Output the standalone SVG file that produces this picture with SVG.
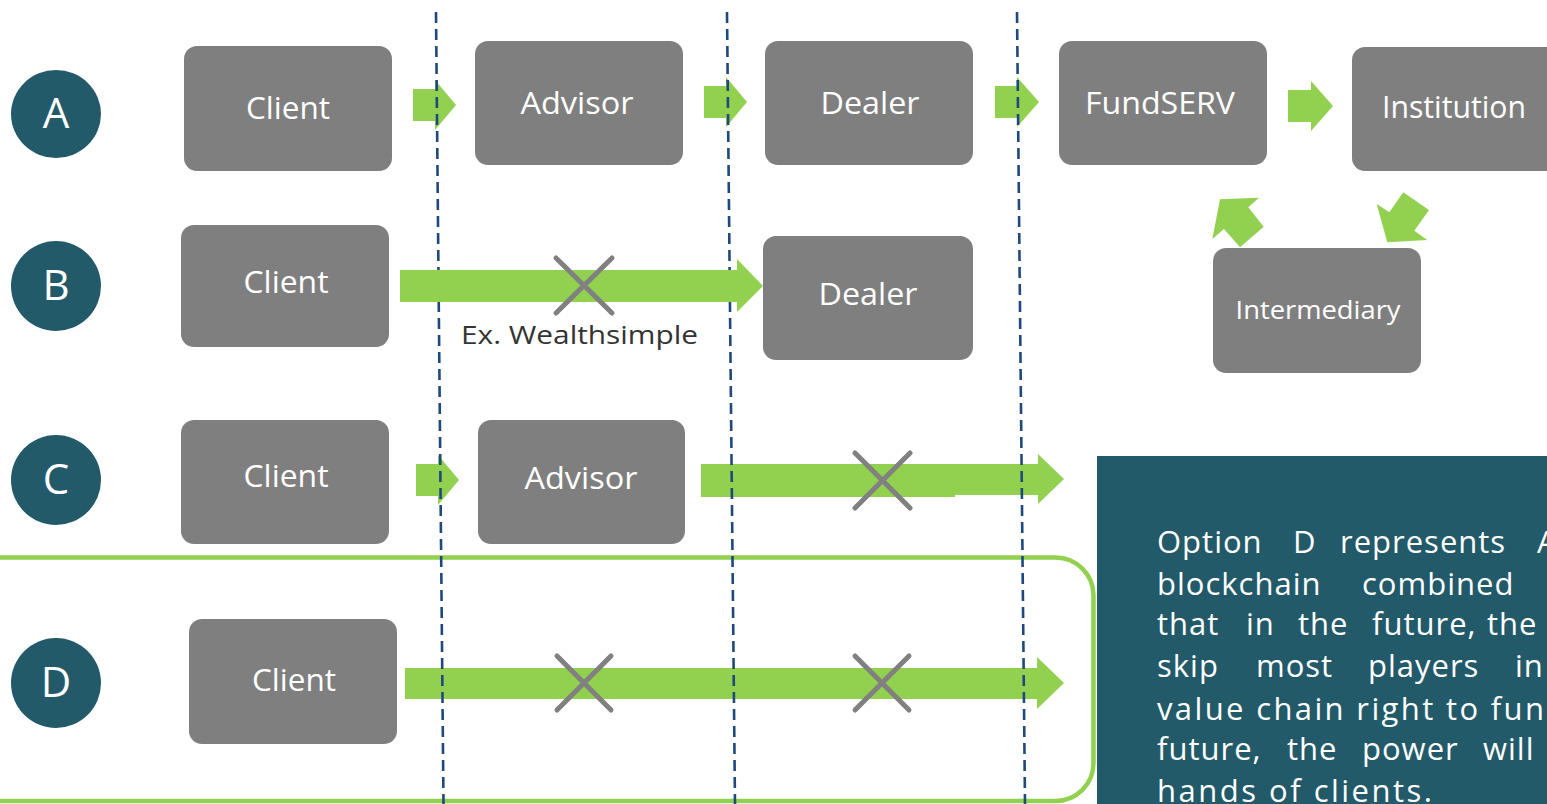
<svg xmlns="http://www.w3.org/2000/svg" width="1547" height="804" viewBox="0 0 1547 804">
<style>
.box{fill:#7f7f7f}
.lbl{font-family:"Open Sans","Noto Sans",sans-serif;font-size:31px;fill:#ffffff;text-anchor:middle}
.circ{fill:#225a69}
.clbl{font-family:"Open Sans","Noto Sans",sans-serif;font-size:42px;fill:#ffffff;text-anchor:middle}
.arr{fill:#92d050}
.dash{stroke:#1f497d;stroke-width:2.6;stroke-dasharray:11 6;fill:none}
.x{stroke:#808080;stroke-width:5;stroke-linecap:round;fill:none}
.para{font-family:"Open Sans","Noto Sans",sans-serif;font-size:31px;fill:#ffffff;letter-spacing:1px}
</style>
<rect width="1547" height="804" fill="#ffffff"/>

<!-- Option D outline -->
<rect id="optionD-frame" x="-35" y="557.5" width="1128.5" height="243.5" rx="38" ry="38" fill="none" stroke="#92d050" stroke-width="4.5"/>

<!-- row circles -->
<g id="circle-A"><ellipse class="circ" cx="56" cy="114" rx="45" ry="44"/><text class="clbl" x="56" y="128">A</text></g>
<g id="circle-B"><ellipse class="circ" cx="56" cy="286" rx="45" ry="45"/><text class="clbl" x="56" y="300">B</text></g>
<g id="circle-C"><ellipse class="circ" cx="56" cy="480" rx="45" ry="45"/><text class="clbl" x="56" y="494">C</text></g>
<g id="circle-D"><ellipse class="circ" cx="56" cy="683" rx="45" ry="45"/><text class="clbl" x="56" y="697">D</text></g>

<!-- nodes -->
<g id="A-client"><rect class="box" x="184" y="46" width="208" height="125" rx="13"/><text class="lbl" x="288" y="119" textLength="84" lengthAdjust="spacingAndGlyphs">Client</text></g>
<g id="A-advisor"><rect class="box" x="475" y="41" width="208" height="124" rx="13"/><text class="lbl" x="577" y="114" textLength="113" lengthAdjust="spacingAndGlyphs">Advisor</text></g>
<g id="A-dealer"><rect class="box" x="765" y="41" width="208" height="124" rx="13"/><text class="lbl" x="870" y="114" textLength="99" lengthAdjust="spacingAndGlyphs">Dealer</text></g>
<g id="A-fundserv"><rect class="box" x="1059" y="41" width="208" height="124" rx="13"/><text class="lbl" x="1160" y="114" textLength="150" lengthAdjust="spacingAndGlyphs">FundSERV</text></g>
<g id="A-institution"><rect class="box" x="1352" y="47" width="215" height="124" rx="13"/><text class="lbl" x="1454" y="118" textLength="144" lengthAdjust="spacingAndGlyphs">Institution</text></g>
<g id="intermediary"><rect class="box" x="1213" y="248" width="208" height="125" rx="13"/><text class="lbl" x="1318" y="319" style="font-size:25px" textLength="165" lengthAdjust="spacingAndGlyphs">Intermediary</text></g>

<g id="B-client"><rect class="box" x="181" y="225" width="208" height="122" rx="13"/><text class="lbl" x="286" y="293" textLength="85" lengthAdjust="spacingAndGlyphs">Client</text></g>
<g id="B-dealer"><rect class="box" x="763" y="236" width="210" height="124" rx="13"/><text class="lbl" x="868" y="305" textLength="99" lengthAdjust="spacingAndGlyphs">Dealer</text></g>

<g id="C-client"><rect class="box" x="181" y="420" width="208" height="124" rx="13"/><text class="lbl" x="286" y="487" textLength="85" lengthAdjust="spacingAndGlyphs">Client</text></g>
<g id="C-advisor"><rect class="box" x="478" y="420" width="207" height="124" rx="13"/><text class="lbl" x="581" y="489" textLength="113" lengthAdjust="spacingAndGlyphs">Advisor</text></g>

<g id="D-client"><rect class="box" x="189" y="619" width="208" height="125" rx="13"/><text class="lbl" x="294" y="691" textLength="84" lengthAdjust="spacingAndGlyphs">Client</text></g>

<!-- connectors -->
<g id="connectors">
  <g id="arrows-under">
    <polygon class="arr" points="413,89 435,89 435,80 456,105 435,130 435,121 413,121"/>
    <polygon class="arr" points="704,86 726,86 726,77 747,102 726,127 726,118 704,118"/>
    <polygon class="arr" points="995,86 1017,86 1017,77 1039,102 1017,127 1017,118 995,118"/>
    <polygon class="arr" points="1288,90 1311,90 1311,81 1333,106 1311,131 1311,122 1288,122"/>
    <polygon class="arr" points="416,464 438,464 438,455 459,480 438,505 438,496 416,496"/>
    <polygon class="arr" points="701,464 1038,464 1038,454 1064,479 1038,504 1038,495 955,495 955,497 701,497"/>
    <polygon class="arr" points="405,668 1037,668 1037,657 1064,683 1037,709 1037,699 405,699"/>
    <polygon class="arr" points="1220,199.3 1259,197.7 1248.3,207.3 1263.7,226.7 1240,247.3 1224,229 1212.3,239"/>
    <polygon class="arr" points="1403.3,192.3 1429,210 1414.3,230.7 1427.3,240 1387.3,242.3 1376.7,204 1389.3,212.3"/>
  </g>
  <g id="dividers">
    <line class="dash" x1="436" y1="12" x2="443.5" y2="804"/>
    <line class="dash" x1="727" y1="12" x2="735" y2="804"/>
    <line class="dash" x1="1017" y1="12" x2="1025" y2="804"/>
  </g>
  <polygon class="arr" points="400,270 737,270 737,259 763,286 737,312 737,302 400,302"/>
  <g id="crosses">
    <path class="x" d="M556,258 L612,313 M612,258 L556,313"/>
    <path class="x" d="M855,453 L910,508 M910,453 L855,508"/>
    <path class="x" d="M557,656 L611,710 M611,656 L557,710"/>
    <path class="x" d="M855,656 L909,710 M909,656 L855,710"/>
  </g>
</g>

<text id="wealthsimple" x="461" y="344" style="font-family:'Open Sans','Noto Sans',sans-serif;font-size:26px;fill:#333333" textLength="237" lengthAdjust="spacingAndGlyphs">Ex. Wealthsimple</text>

<!-- Option D explanation -->
<g id="note">
  <rect x="1097" y="456" width="460" height="360" fill="#225a69"/>
  <text class="para" y="553"><tspan x="1157">Option</tspan><tspan x="1293">D</tspan><tspan x="1340">represents</tspan><tspan x="1537">A</tspan></text>
  <text class="para" y="595"><tspan x="1157">blockchain</tspan><tspan x="1362">combined</tspan></text>
  <text class="para" y="635"><tspan x="1157">that</tspan><tspan x="1246">in</tspan><tspan x="1298">the</tspan><tspan x="1372">future,</tspan><tspan x="1487">the</tspan></text>
  <text class="para" y="677"><tspan x="1157">skip</tspan><tspan x="1256">most</tspan><tspan x="1368">players</tspan><tspan x="1515">in</tspan></text>
  <text class="para" y="720" x="1157" textLength="388" lengthAdjust="spacing">value chain right to fun</text>
  <text class="para" y="760"><tspan x="1157">future,</tspan><tspan x="1287">the</tspan><tspan x="1362">power</tspan><tspan x="1483">will</tspan></text>
  <text class="para" y="802" x="1157" textLength="276" lengthAdjust="spacing">hands of clients.</text>
</g>
</svg>
